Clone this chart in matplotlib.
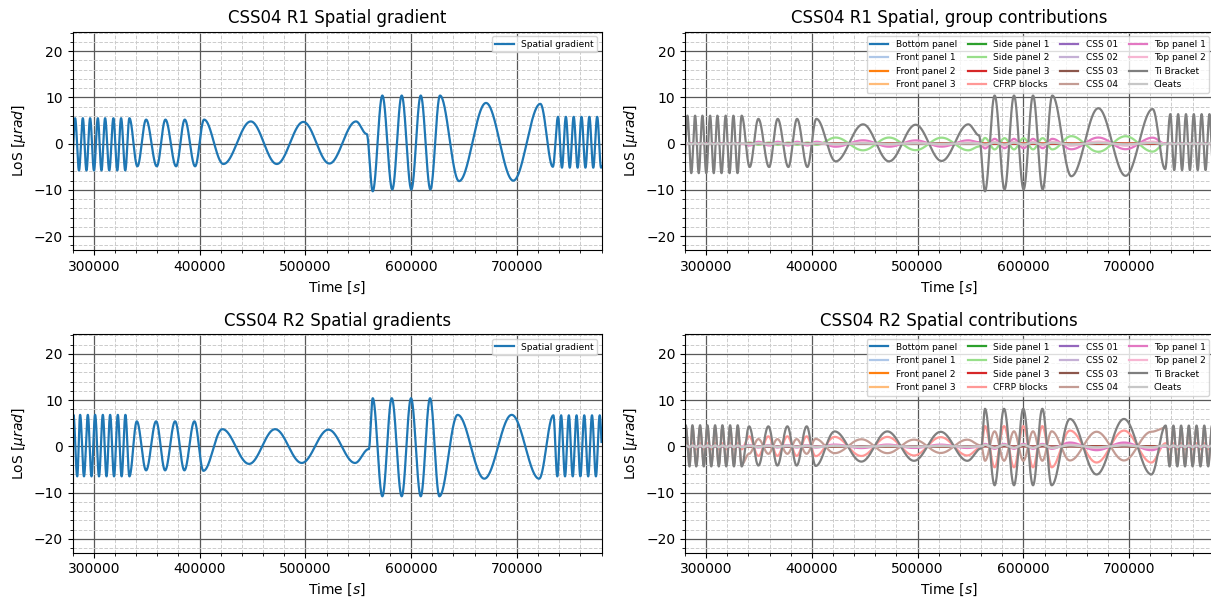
import numpy as np
import matplotlib.pyplot as plt
from matplotlib.ticker import AutoMinorLocator

# extrema (time [s], LoS [urad])
r1_ext_t = [278700, 282330, 285970, 289600, 293050, 296500, 300140, 303780, 307230,
            310680, 314600, 318530, 322170, 325800, 329720, 333640,
            341200, 349430, 359540, 367680, 377800, 385990, 395750, 404260,
            422500, 448400, 472970, 498100, 522700, 547900, 558000,
            563700, 572800, 582200, 591100, 600200, 609100, 618200, 627300,
            645300, 670800, 696600, 722200,
            734000, 738900, 742600, 746300, 750000, 753700, 757400, 761100,
            764800, 768500, 772200, 775900, 779600, 783300]
r1_ext_v = [-5.8, 5.5, -5.8, 5.5, -5.8, 5.5, -5.8, 5.5, -5.8,
            5.5, -5.8, 5.5, -5.8, 5.5, -5.8, 5.5,
            -4.9, 5.2, -4.9, 5.2, -4.9, 5.2, -4.9, 5.2,
            -4.4, 4.8, -4.4, 4.7, -4.3, 4.8, 2.1,
            -10.3, 10.4, -9.9, 10.4, -9.9, 10.4, -9.9, 10.4,
            -8.1, 8.8, -8.0, 8.6,
            -5.0, 5.8, -5.2, 5.8, -5.2, 5.8, -5.2, 5.8,
            -5.2, 5.8, -5.2, 5.8, -5.2, 5.8]

r2_ext_t = [277200, 280720, 284300, 287050, 290700, 294330, 297800, 301230, 304900,
            308510, 312000, 315410, 319100, 322690, 326300, 329870, 333650,
            340640, 349430, 358890, 367390, 376840, 385640, 395090, 403600,
            421550, 446800, 471360, 496600, 521800, 547000, 560000,
            563700, 572800, 581700, 591100, 599900, 609100, 617900, 626700,
            644000, 669200, 695100, 721000,
            734500, 738200, 741800, 745500, 749100, 752800, 756400, 760000,
            763700, 767400, 771000, 774700, 778300, 782000]
r2_ext_v = [-6.5, 6.8, -6.5, 6.8, -6.5, 6.8, -6.5, 6.8, -6.5,
            6.8, -6.5, 6.8, -6.5, 6.8, -6.5, 6.8, -6.5,
            5.4, -5.2, 5.4, -5.2, 5.4, -5.2, 5.4, -5.3,
            3.7, -3.8, 3.7, -3.6, 3.6, -3.6, -0.6,
            10.4, -10.8, 10.4, -10.8, 10.4, -10.8, 10.4, -10.8,
            6.8, -7.0, 6.8, -7.0,
            6.7, -6.5, 6.7, -6.5, 6.7, -6.5, 6.7, -6.5,
            6.7, -6.5, 6.7, -6.5, 6.7, -6.5]

# segment edges: fast | medium | slow | large | slow | fast
r1_edges = [338000, 413000, 560000, 636000, 730000]
r2_edges = [337000, 412000, 558000, 635000, 730000]

groups = ["Bottom panel", "Front panel 1", "Front panel 2", "Front panel 3",
          "Side panel 1", "Side panel 2", "Side panel 3", "CFRP blocks",
          "CSS 01", "CSS 02", "CSS 03", "CSS 04",
          "Top panel 1", "Top panel 2", "Ti Bracket", "Cleats"]

# share of the gradient carried by each group, per segment
r1_share = [[0.01, 0.01, 0.01, 0.01, 0.01, 0.01],
            [0.0, 0.0, 0.0, 0.0, 0.0, 0.0],
            [0.0, 0.0, 0.0, 0.0, 0.0, 0.0],
            [0.0, 0.0, 0.0, 0.0, 0.0, 0.0],
            [0.0, 0.01, 0.02, 0.02, 0.02, 0.0],
            [0.0, -0.05, -0.3, -0.12, -0.2, 0.0],
            [0.0, 0.0, 0.0, 0.0, 0.0, 0.0],
            [0.0, 0.02, 0.03, 0.03, 0.03, 0.0],
            [0.0, 0.01, 0.02, 0.02, 0.04, 0.0],
            [0.0, 0.01, 0.02, 0.02, 0.03, 0.0],
            [0.0, 0.0, 0.01, 0.01, 0.01, 0.0],
            [0.0, 0.01, 0.02, 0.02, 0.02, 0.0],
            [0.0, 0.08, 0.15, 0.1, 0.15, 0.0],
            [0.0, 0.03, 0.05, 0.04, 0.05, 0.0],
            [1.1, 1.03, 0.87, 1.0, 0.87, 1.1],
            [0.02, 0.02, 0.02, 0.02, 0.02, 0.02]]

r2_share = [[0.0, 0.01, 0.01, 0.01, 0.01, 0.0],
            [0.0, 0.0, 0.0, 0.0, 0.0, 0.0],
            [0.0, 0.01, 0.02, 0.01, 0.04, 0.0],
            [0.0, 0.0, 0.01, 0.01, 0.02, 0.0],
            [0.0, 0.0, 0.01, 0.01, 0.01, 0.0],
            [0.0, 0.01, 0.02, 0.01, 0.02, 0.0],
            [0.0, 0.0, 0.0, 0.0, 0.0, 0.0],
            [0.1, 0.4, 0.55, 0.42, 0.5, 0.1],
            [0.0, 0.01, 0.03, 0.02, 0.06, 0.0],
            [0.0, 0.01, 0.02, 0.01, 0.03, 0.0],
            [0.0, 0.01, 0.01, 0.01, 0.01, 0.0],
            [0.6, -0.3, -0.4, -0.3, -0.45, 0.6],
            [0.0, 0.05, 0.1, 0.05, 0.12, 0.0],
            [0.0, 0.02, 0.04, 0.03, 0.05, 0.0],
            [0.67, 0.8, 0.87, 0.78, 0.87, 0.67],
            [0.03, 0.03, 0.03, 0.03, 0.03, 0.03]]

t = np.linspace(280000, 780000, 20001)


def wave(ext_t, ext_v, tt):
    ext_t = np.asarray(ext_t, float)
    ext_v = np.asarray(ext_v, float)
    k = np.clip(np.searchsorted(ext_t, tt) - 1, 0, len(ext_t) - 2)
    t0, t1 = ext_t[k], ext_t[k + 1]
    v0, v1 = ext_v[k], ext_v[k + 1]
    frac = (tt - t0) / (t1 - t0)
    return (v0 + v1) / 2 + (v0 - v1) / 2 * np.cos(np.pi * frac)


def style_axes(ax, title):
    ax.set_xlim(280000, 780000)
    ax.set_ylim(-23, 24.2)
    ax.xaxis.set_minor_locator(AutoMinorLocator())
    ax.yaxis.set_minor_locator(AutoMinorLocator())
    ax.grid(which="major", color="0.35", linewidth=0.9)
    ax.grid(which="minor", color="0.8", linestyle="--", linewidth=0.7)
    ax.set_axisbelow(True)
    ax.set_title(title, fontsize=12)
    ax.set_xlabel("Time [$s$]", fontsize=10)
    ax.set_ylabel(r"LoS [$\mu rad$]", fontsize=10)
    ax.tick_params(labelsize=10)


fig = plt.figure(figsize=(12.11, 6.01), dpi=100)
w, h = 0.4367, 0.3632
ax_tl = fig.add_axes([0.060, 0.584, w, h])
ax_tr = fig.add_axes([0.5656, 0.584, w, h])
ax_bl = fig.add_axes([0.060, 0.0804, w, h])
ax_br = fig.add_axes([0.5656, 0.0804, w, h])

colors = plt.get_cmap("tab20").colors

for ax_g, ax_c, ext_t, ext_v, edges, share, t_g, t_c in [
        (ax_tl, ax_tr, r1_ext_t, r1_ext_v, r1_edges, r1_share,
         "CSS04 R1 Spatial gradient", "CSS04 R1 Spatial, group contributions"),
        (ax_bl, ax_br, r2_ext_t, r2_ext_v, r2_edges, r2_share,
         "CSS04 R2 Spatial gradients", "CSS04 R2 Spatial contributions")]:
    ax_g.plot(t, wave(ext_t, ext_v, t), color="#1f77b4", lw=1.6, label="Spatial gradient")
    style_axes(ax_g, t_g)
    ax_g.legend(loc="upper right", fontsize=6.5)

    seg = np.searchsorted(edges, ext_t)
    for i, name in enumerate(groups):
        vals = np.asarray(ext_v) * np.asarray(share[i])[seg]
        ax_c.plot(t, wave(ext_t, vals, t), color=colors[i], lw=1.6, label=name)
    style_axes(ax_c, t_c)
    ax_c.legend(loc="upper right", fontsize=6.5, ncol=4, columnspacing=1.2)

fig.savefig("out.png", dpi=100)
